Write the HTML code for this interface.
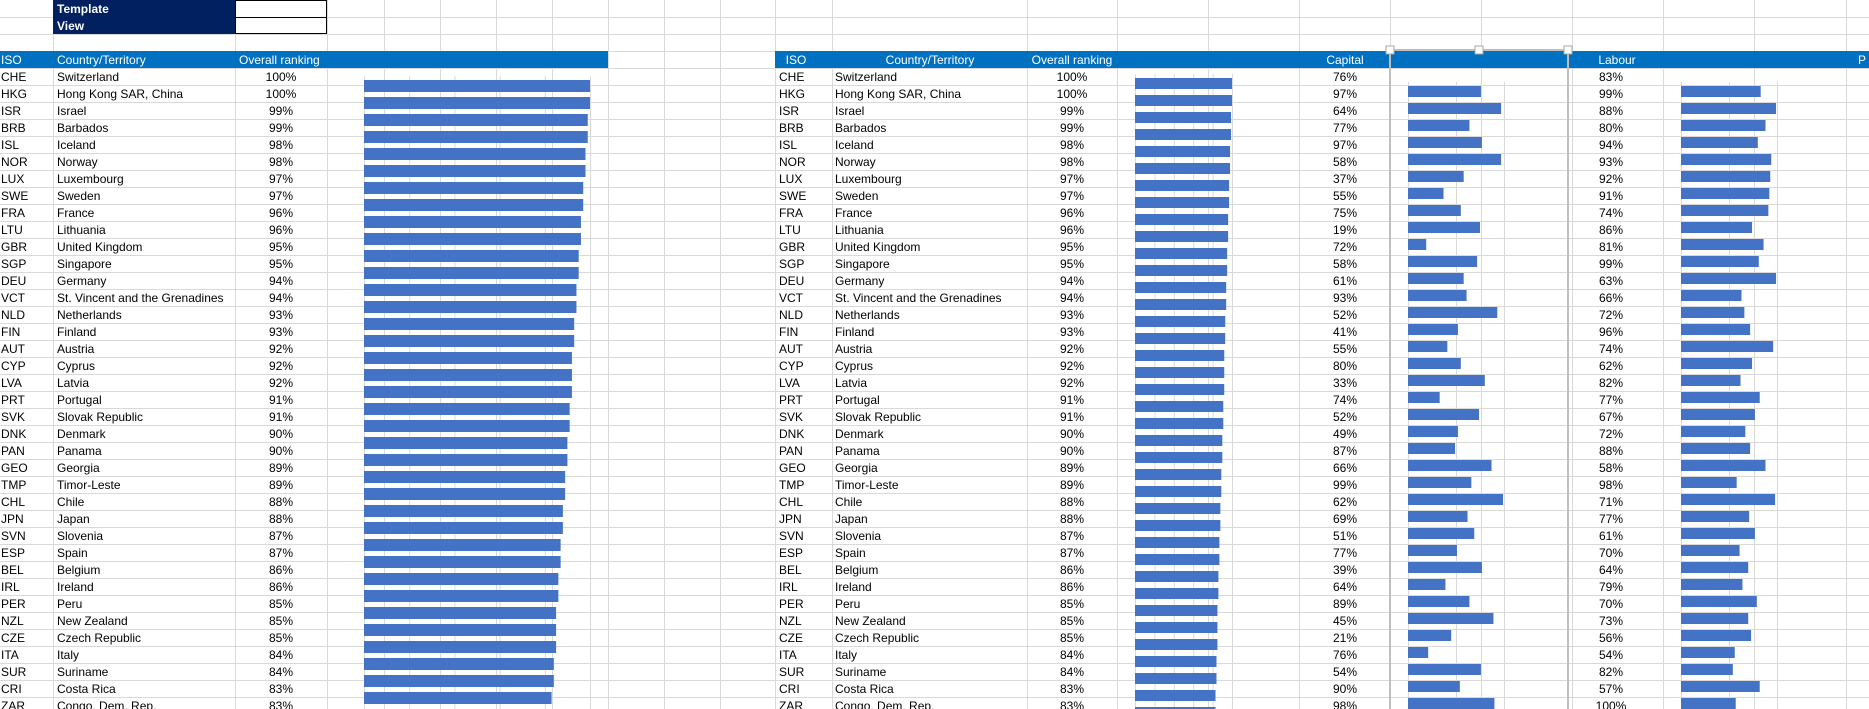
<!DOCTYPE html>
<html><head><meta charset="utf-8"><style>
html,body{margin:0;padding:0;background:#fff;width:1869px;height:709px;overflow:hidden}
svg{display:block;font-family:"Liberation Sans",sans-serif}
</style></head><body>
<svg id="s" width="1869" height="709" viewBox="0 0 1869 709"></svg>
<script>
const isoCodes=["CHE","HKG","ISR","BRB","ISL","NOR","LUX","SWE","FRA","LTU","GBR","SGP","DEU","VCT","NLD","FIN","AUT","CYP","LVA","PRT","SVK","DNK","PAN","GEO","TMP","CHL","JPN","SVN","ESP","BEL","IRL","PER","NZL","CZE","ITA","SUR","CRI","ZAR"];
const countries=["Switzerland","Hong Kong SAR, China","Israel","Barbados","Iceland","Norway","Luxembourg","Sweden","France","Lithuania","United Kingdom","Singapore","Germany","St. Vincent and the Grenadines","Netherlands","Finland","Austria","Cyprus","Latvia","Portugal","Slovak Republic","Denmark","Panama","Georgia","Timor-Leste","Chile","Japan","Slovenia","Spain","Belgium","Ireland","Peru","New Zealand","Czech Republic","Italy","Suriname","Costa Rica","Congo, Dem. Rep."];
const overall=[100,100,99,99,98,98,97,97,96,96,95,95,94,94,93,93,92,92,92,91,91,90,90,89,89,88,88,87,87,86,86,85,85,85,84,84,83,83];
const capital=[76,97,64,77,97,58,37,55,75,19,72,58,61,93,52,41,55,80,33,74,52,49,87,66,99,62,69,51,77,39,64,89,45,21,76,54,90,98];
const labour=[83,99,88,80,94,93,92,91,74,86,81,99,63,66,72,96,74,62,82,77,67,72,88,58,98,71,77,61,70,64,79,70,73,56,54,82,57,100];

const s=document.getElementById('s');
const NS='http://www.w3.org/2000/svg';
function mk(tag,attrs,parent){const e=document.createElementNS(NS,tag);for(const k in attrs)e.setAttribute(k,attrs[k]);(parent||s).appendChild(e);return e;}
function txt(x,y,t,opt){const e=mk('text',Object.assign({x:x,y:y,'font-size':12,fill:'#000'},opt||{}));e.textContent=t;return e;}

const ROW=17, TOP=68;
const cols=[53,235,327,384,440,496,552,608,664,720,775,832,1027,1117,1208,1299,1390,1481,1572,1663,1754,1846];
const grid=mk('g',{stroke:'#d9d9d9','stroke-width':1});


for(let y=17;y<709;y+=ROW) mk('line',{x1:0,x2:1869,y1:y+0.5,y2:y+0.5},grid);
cols.forEach(x=>mk('line',{x1:x+0.5,x2:x+0.5,y1:0,y2:709},grid));

const tb=mk('rect',{x:53,y:0,width:182,height:34,fill:'#002060'});


let t=txt(57,13,'Template',{fill:'#fff','font-weight':'bold'});


t=txt(57,30,'View',{fill:'#fff','font-weight':'bold'});


const ib=mk('rect',{x:235.5,y:0.5,width:91,height:33,fill:'#fff',stroke:'#000','stroke-width':1});


mk('line',{x1:235,x2:327,y1:17.5,y2:17.5,stroke:'#000'});

let h=mk('rect',{x:0,y:51,width:608,height:17,fill:'#0070c0'});


h=mk('rect',{x:775,y:51,width:1094,height:17,fill:'#0070c0'});


const hw={fill:'#fff'};
[[1,'ISO','start','header-iso'],[57,'Country/Territory','start','header-country'],[239,'Overall ranking','start','header-overall'],
 [796,'ISO','middle','header-iso-2'],[930,'Country/Territory','middle','header-country-2'],[1072,'Overall ranking','middle','header-overall-2'],
 [1345,'Capital','middle','header-capital'],[1617,'Labour','middle','header-labour'],[1858,'P','start','header-p']].forEach(a=>{
  const e=txt(a[0],64,a[1],Object.assign({'text-anchor':a[2]},hw));
  
  
});

for(let i=0;i<isoCodes.length;i++){
  const by=TOP+ROW*i+13;
  let e=txt(1,by,isoCodes[i]);
  
  
  e=txt(57,by,countries[i]);
  
  
  e=txt(281,by,overall[i]+'%',{'text-anchor':'middle'});
  
  
  e=txt(779,by,isoCodes[i]);
  
  
  e=txt(835,by,countries[i]);
  
  
  e=txt(1072,by,overall[i]+'%',{'text-anchor':'middle'});
  
  
  e=txt(1345,by,capital[i]+'%',{'text-anchor':'middle'});
  
  
  e=txt(1611,by,labour[i]+'%',{'text-anchor':'middle'});
  
  
}

function barChart(name,x0,pxPerPct,y0,barH,values,gridStep){
  const g=mk('g',{});
  
  
  const xs=v=>x0+v*pxPerPct;
  for(let v=0;v<=100;v+=gridStep){
    const l=mk('line',{x1:xs(v)+0.5,x2:xs(v)+0.5,y1:y0-4,y2:709,stroke:'#d9d9d9'},g);
    
    
  }
  values.forEach((v,i)=>{
    const r=mk('rect',{x:x0,y:y0+ROW*i,width:xs(v)-x0,height:barH,fill:'#4472c4'},g);
    
    
  });
}
barChart('overall-chart',364,2.26,80,12,overall,20);
barChart('overall-chart-2',1135,0.97,78,11,overall,20);
barChart('capital-chart',1408,0.96,86,11,capital,50);
barChart('labour-chart',1681,0.96,86,11,labour,50);

const sel=mk('g',{});


mk('path',{d:'M1390 709 V50 H1568 V709',fill:'none',stroke:'#bfbfbf','stroke-width':2},sel);
[1390,1479,1568].forEach(x=>{
  const hd=mk('rect',{x:x-4,y:46,width:8,height:8,fill:'#fff',stroke:'#a6a6a6','stroke-width':1},sel);
  
  
});
</script>
</body></html>
